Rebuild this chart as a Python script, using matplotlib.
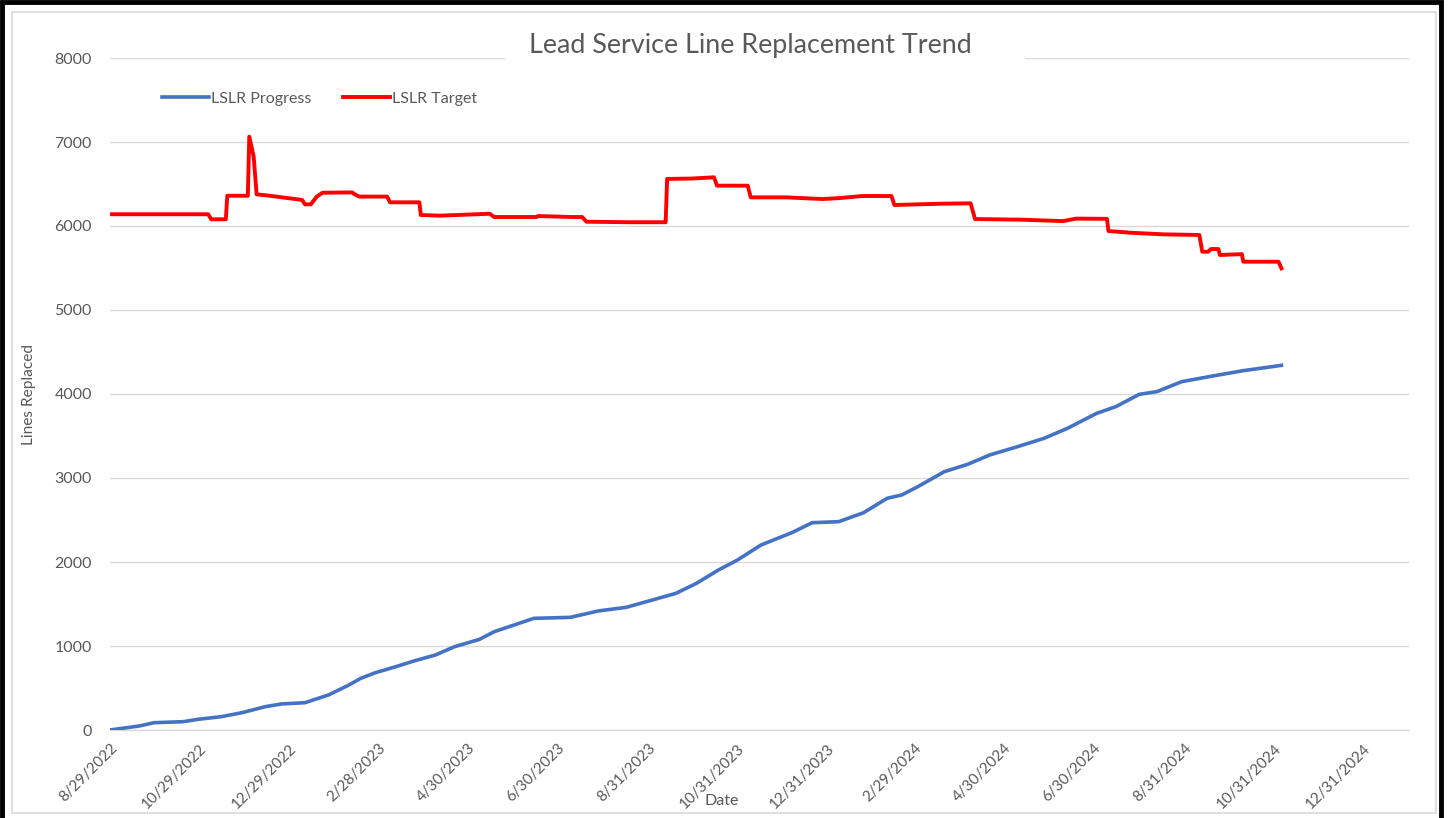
import matplotlib
matplotlib.use("Agg")
import matplotlib.pyplot as plt
from matplotlib.patches import Rectangle
import pandas as pd

# ---- data ----
progress_dates = ["2022-08-29", "2022-09-18", "2022-09-28", "2022-10-18", "2022-10-28",
                  "2022-11-13", "2022-11-27", "2022-12-13", "2022-12-24", "2023-01-09",
                  "2023-01-25", "2023-02-08", "2023-02-16", "2023-02-26", "2023-03-12",
                  "2023-03-25", "2023-04-08", "2023-04-21", "2023-05-08", "2023-05-18",
                  "2023-06-04", "2023-06-14", "2023-07-09", "2023-07-28", "2023-08-16",
                  "2023-09-03", "2023-09-19", "2023-10-03", "2023-10-18", "2023-10-31",
                  "2023-11-16", "2023-12-07", "2023-12-21", "2024-01-08", "2024-01-25",
                  "2024-02-10", "2024-02-20", "2024-03-02", "2024-03-20", "2024-04-05",
                  "2024-04-20", "2024-05-09", "2024-05-27", "2024-06-12", "2024-07-02",
                  "2024-07-15", "2024-07-31", "2024-08-12", "2024-08-29", "2024-09-19",
                  "2024-10-10", "2024-11-05"]
progress_values = [0, 48, 87, 99, 127, 159, 206, 278, 310, 325,
                   417, 536, 615, 682, 754, 825, 893, 992, 1079, 1170,
                   1270, 1329, 1341, 1417, 1460, 1548, 1627, 1746, 1905, 2024,
                   2202, 2349, 2468, 2480, 2587, 2758, 2798, 2897, 3075, 3163,
                   3274, 3373, 3472, 3591, 3770, 3849, 3996, 4028, 4147, 4214,
                   4278, 4341]

target_dates = ["2022-08-29", "2022-11-04", "2022-11-06", "2022-11-16", "2022-11-17",
                "2022-12-01", "2022-12-02", "2022-12-05", "2022-12-07", "2022-12-16",
                "2023-01-07", "2023-01-09", "2023-01-13", "2023-01-17", "2023-01-21",
                "2023-02-10", "2023-02-12", "2023-02-15", "2023-03-06", "2023-03-08",
                "2023-03-28", "2023-03-29", "2023-04-11", "2023-05-15", "2023-05-18",
                "2023-06-16", "2023-06-17", "2023-07-10", "2023-07-17", "2023-07-20",
                "2023-08-18", "2023-09-12", "2023-09-13", "2023-09-30", "2023-10-15",
                "2023-10-17", "2023-11-07", "2023-11-09", "2023-12-03", "2023-12-28",
                "2024-01-09", "2024-01-24", "2024-02-13", "2024-02-15", "2024-03-17",
                "2024-04-07", "2024-04-10", "2024-05-12", "2024-06-09", "2024-06-18",
                "2024-07-09", "2024-07-10", "2024-07-25", "2024-08-16", "2024-09-10",
                "2024-09-12", "2024-09-16", "2024-09-18", "2024-09-23", "2024-09-24",
                "2024-10-09", "2024-10-10", "2024-11-03", "2024-11-05"]
target_values = [6140, 6140, 6080, 6080, 6360, 6360, 7063, 6825, 6377, 6360,
                 6310, 6258, 6258, 6350, 6396, 6400, 6377, 6350, 6350, 6282,
                 6282, 6131, 6123, 6146, 6107, 6107, 6119, 6107, 6107, 6051,
                 6045, 6045, 6560, 6565, 6580, 6480, 6480, 6341, 6341, 6321,
                 6333, 6357, 6357, 6250, 6265, 6270, 6083, 6075, 6058, 6088,
                 6085, 5940, 5920, 5901, 5893, 5694, 5694, 5726, 5726, 5655,
                 5665, 5575, 5575, 5496]

tick_labels = ["8/29/2022", "10/29/2022", "12/29/2022", "2/28/2023", "4/30/2023",
               "6/30/2023", "8/31/2023", "10/31/2023", "12/31/2023", "2/29/2024",
               "4/30/2024", "6/30/2024", "8/31/2024", "10/31/2024", "12/31/2024"]
y_ticks = [0, 1000, 2000, 3000, 4000, 5000, 6000, 7000, 8000]

# ---- figure ----
W, H = 1450, 818
fig = plt.figure(figsize=(W / 100, H / 100), dpi=100)
fig.patch.set_facecolor("white")

font = ["Lato", "DejaVu Sans"]
gray_text = "#595959"

L, R, T, B = 110, 1409, 58, 730
ax = fig.add_axes([L / W, 1 - B / H, (R - L) / W, (B - T) / H])
ax.set_facecolor("white")

pd_dates = pd.to_datetime(progress_dates)
td_dates = pd.to_datetime(target_dates)

ax.plot(pd_dates, progress_values, color="#4472C4", lw=2.6, solid_joinstyle="round",
        label="LSLR Progress", zorder=3)
ax.plot(td_dates, target_values, color="#FF0000", lw=2.8, solid_joinstyle="round",
        label="LSLR Target", zorder=3)

ax.set_xlim(pd.Timestamp("2022-08-29"), pd.Timestamp("2025-01-31"))
ax.set_ylim(0, 8000)
ax.set_yticks(y_ticks)
ax.set_yticklabels([str(v) for v in y_ticks], fontsize=11.5, color=gray_text, family=font)

xt = pd.to_datetime(tick_labels, format="%m/%d/%Y")
ax.set_xticks(xt)
ax.set_xticklabels(tick_labels, rotation=45, ha="right", va="top",
                   rotation_mode="anchor", fontsize=11, color=gray_text, family=font)
ax.tick_params(axis="both", length=0)
ax.tick_params(axis="y", pad=13)
ax.tick_params(axis="x", pad=8)

ax.grid(axis="y", color="#D9D9D9", lw=1.0, zorder=0)
for s in ["left", "right", "top"]:
    ax.spines[s].set_visible(False)
ax.spines["bottom"].set_color("#D9D9D9")
ax.spines["bottom"].set_linewidth(1.0)

ax.set_ylabel("Lines Replaced", fontsize=11.2, color=gray_text, family=font)
ax.yaxis.set_label_coords((36 - L) / (R - L), (B - 395) / (B - T))
ax.set_xlabel("Date", fontsize=11.5, color=gray_text, family=font)
ax.xaxis.set_label_coords((722 - L) / (R - L), -(794 - B) / (B - T))
ax.xaxis.label.set_va("top")

leg = ax.legend(loc="upper left", bbox_to_anchor=((148 - L) / (R - L), 1 - (77 - T) / (B - T)),
                ncol=2, frameon=False, handlelength=2.9,
                handletextpad=0.15, columnspacing=2.0, prop={"family": font, "size": 11.5})
for t in leg.get_texts():
    t.set_color(gray_text)

# white band behind the title, interrupting the top gridline
fig.patches.append(Rectangle((505 / W, 1 - 72 / H), (1025 - 505) / W, (72 - 28) / H,
                             transform=fig.transFigure, facecolor="white", edgecolor="none",
                             zorder=5))
fig.text(750 / W, 1 - 46 / H, "Lead Service Line Replacement Trend", ha="center", va="center",
         fontsize=19.4, color=gray_text, family=font, zorder=6)

# chart area borders
fig.patches.append(Rectangle((12 / W, 1 - 813 / H), (1436 - 12) / W, (813 - 12) / H,
                             transform=fig.transFigure, fill=False, edgecolor="#D9D9D9",
                             lw=1.2, zorder=0))
fig.patches.append(Rectangle((2 / W, -0.01), (1441 - 2) / W, 1 - 2 / H + 0.01,
                             transform=fig.transFigure, fill=False, edgecolor="black",
                             lw=3.5, zorder=10))

fig.savefig("out.png", dpi=100, facecolor="white")
